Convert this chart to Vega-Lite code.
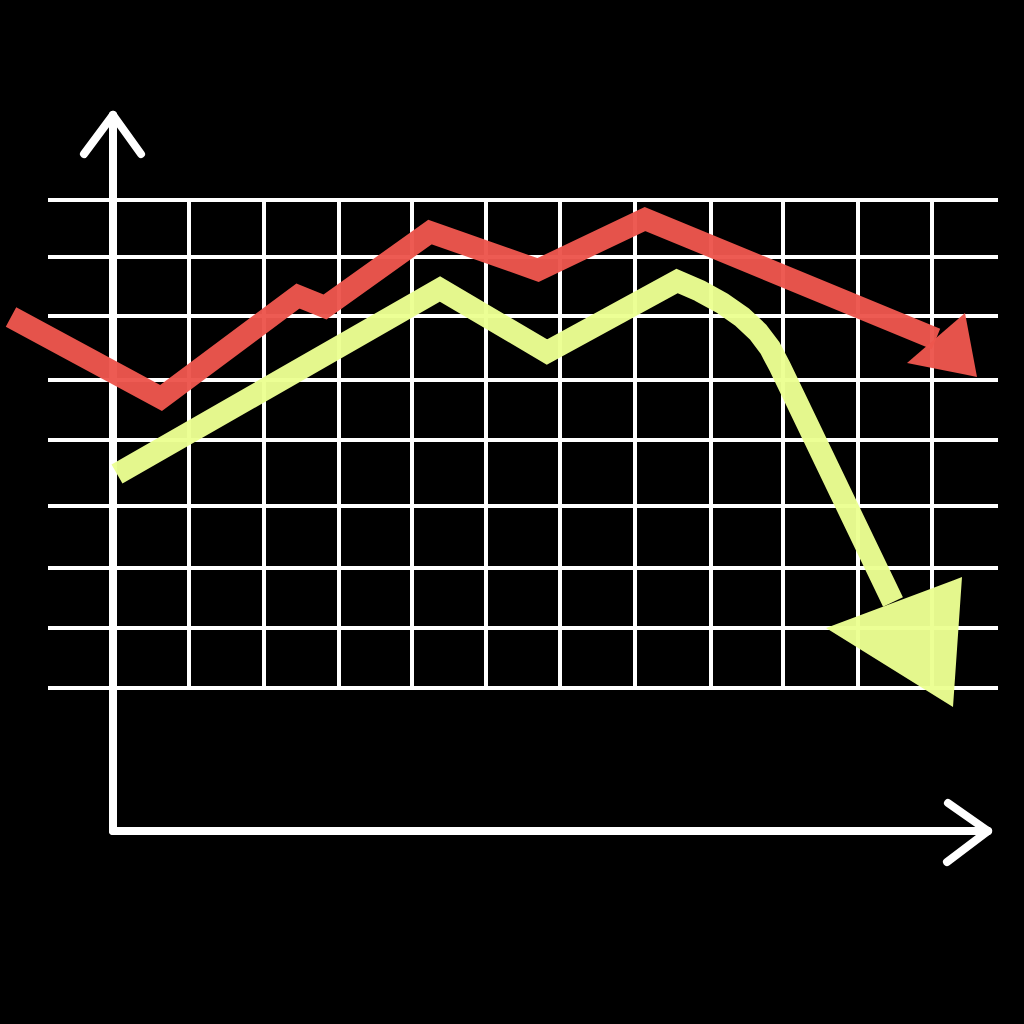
{
  "$schema": "https://vega.github.io/schema/vega-lite/v6.json",
  "width": 1024,
  "height": 1024,
  "autosize": {"type": "none"},
  "padding": 0,
  "background": "#000000",
  "config": {"view": {"stroke": null}},
  "datasets": {
    "grid": [
      {"x": 48, "x2": 998, "y": 200, "y2": 200},
      {"x": 48, "x2": 998, "y": 257, "y2": 257},
      {"x": 48, "x2": 998, "y": 316, "y2": 316},
      {"x": 48, "x2": 998, "y": 380, "y2": 380},
      {"x": 48, "x2": 998, "y": 440, "y2": 440},
      {"x": 48, "x2": 998, "y": 506, "y2": 506},
      {"x": 48, "x2": 998, "y": 568, "y2": 568},
      {"x": 48, "x2": 998, "y": 628, "y2": 628},
      {"x": 48, "x2": 998, "y": 688, "y2": 688},
      {"x": 189, "x2": 189, "y": 200, "y2": 688},
      {"x": 264, "x2": 264, "y": 200, "y2": 688},
      {"x": 339, "x2": 339, "y": 200, "y2": 688},
      {"x": 412, "x2": 412, "y": 200, "y2": 688},
      {"x": 486, "x2": 486, "y": 200, "y2": 688},
      {"x": 560, "x2": 560, "y": 200, "y2": 688},
      {"x": 635, "x2": 635, "y": 200, "y2": 688},
      {"x": 711, "x2": 711, "y": 200, "y2": 688},
      {"x": 783, "x2": 783, "y": 200, "y2": 688},
      {"x": 858, "x2": 858, "y": 200, "y2": 688},
      {"x": 932, "x2": 932, "y": 200, "y2": 688}
    ],
    "axes": [
      {"x": 113, "x2": 113, "y": 115, "y2": 831},
      {"x": 113, "x2": 988, "y": 831, "y2": 831},
      {"x": 113, "x2": 84, "y": 115, "y2": 154},
      {"x": 113, "x2": 141, "y": 115, "y2": 154},
      {"x": 988, "x2": 948, "y": 831, "y2": 803},
      {"x": 988, "x2": 947, "y": 831, "y2": 862}
    ],
    "red": [
      {"i": 0, "x": 11, "y": 317},
      {"i": 1, "x": 161, "y": 398},
      {"i": 2, "x": 298, "y": 296},
      {"i": 3, "x": 325, "y": 307},
      {"i": 4, "x": 430, "y": 232},
      {"i": 5, "x": 538, "y": 270},
      {"i": 6, "x": 645, "y": 219},
      {"i": 7, "x": 936, "y": 339}
    ],
    "yellow": [
      {"i": 0, "x": 117, "y": 474},
      {"i": 1, "x": 440, "y": 289},
      {"i": 2, "x": 547, "y": 352},
      {"i": 3, "x": 677, "y": 281},
      {"i": 4, "x": 700, "y": 291},
      {"i": 5, "x": 722, "y": 303},
      {"i": 6, "x": 742, "y": 317},
      {"i": 7, "x": 758, "y": 332},
      {"i": 8, "x": 770, "y": 348},
      {"i": 9, "x": 780, "y": 367},
      {"i": 10, "x": 893, "y": 602}
    ],
    "heads": [
      {"id": "red", "x": 907, "y": 363, "y2": 363},
      {"id": "red", "x": 965, "y": 313, "y2": 374.6},
      {"id": "red", "x": 977, "y": 377, "y2": 377},
      {"id": "yellow", "x": 826, "y": 628, "y2": 628},
      {"id": "yellow", "x": 953, "y": 580.4, "y2": 707},
      {"id": "yellow", "x": 962, "y": 577, "y2": 577}
    ]
  },
  "layer": [
    {
      "data": {"name": "grid"},
      "mark": {"type": "rule", "color": "#ffffff", "strokeWidth": 4},
      "encoding": {
        "x": {"field": "x", "type": "quantitative", "scale": {"domain": [0, 1024], "nice": false, "zero": false}, "axis": null},
        "x2": {"field": "x2"},
        "y": {"field": "y", "type": "quantitative", "scale": {"domain": [0, 1024], "nice": false, "zero": false, "reverse": true}, "axis": null},
        "y2": {"field": "y2"}
      }
    },
    {
      "data": {"name": "axes"},
      "mark": {"type": "rule", "color": "#ffffff", "strokeWidth": 8, "strokeCap": "round"},
      "encoding": {
        "x": {"field": "x", "type": "quantitative", "scale": {"domain": [0, 1024], "nice": false, "zero": false}, "axis": null},
        "x2": {"field": "x2"},
        "y": {"field": "y", "type": "quantitative", "scale": {"domain": [0, 1024], "nice": false, "zero": false, "reverse": true}, "axis": null},
        "y2": {"field": "y2"}
      }
    },
    {
      "data": {"name": "red"},
      "mark": {"type": "line", "color": "#ec564d", "strokeWidth": 22, "strokeJoin": "miter", "strokeCap": "butt", "opacity": 0.97},
      "encoding": {
        "x": {"field": "x", "type": "quantitative", "scale": {"domain": [0, 1024], "nice": false, "zero": false}, "axis": null},
        "y": {"field": "y", "type": "quantitative", "scale": {"domain": [0, 1024], "nice": false, "zero": false, "reverse": true}, "axis": null},
        "order": {"field": "i", "type": "quantitative"}
      }
    },
    {
      "data": {"name": "yellow"},
      "mark": {"type": "line", "color": "#ebff92", "strokeWidth": 22, "strokeJoin": "miter", "strokeCap": "butt", "opacity": 0.97},
      "encoding": {
        "x": {"field": "x", "type": "quantitative", "scale": {"domain": [0, 1024], "nice": false, "zero": false}, "axis": null},
        "y": {"field": "y", "type": "quantitative", "scale": {"domain": [0, 1024], "nice": false, "zero": false, "reverse": true}, "axis": null},
        "order": {"field": "i", "type": "quantitative"}
      }
    },
    {
      "data": {"name": "heads"},
      "mark": {"type": "area", "opacity": 0.97},
      "encoding": {
        "x": {"field": "x", "type": "quantitative", "scale": {"domain": [0, 1024], "nice": false, "zero": false}, "axis": null},
        "y": {"field": "y", "type": "quantitative", "stack": null, "scale": {"domain": [0, 1024], "nice": false, "zero": false, "reverse": true}, "axis": null},
        "y2": {"field": "y2"},
        "color": {"field": "id", "type": "nominal", "scale": {"domain": ["red", "yellow"], "range": ["#ec564d", "#ebff92"]}, "legend": null}
      }
    }
  ]
}
